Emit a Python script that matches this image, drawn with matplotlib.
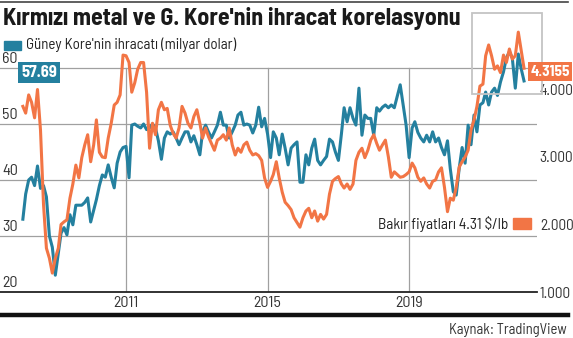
import pandas as pd
import numpy as np
import matplotlib.pyplot as plt
from matplotlib.patches import Rectangle
from matplotlib.lines import Line2D

plt.rcParams['font.family'] = ['Barlow Semi Condensed', 'DejaVu Sans']
plt.rcParams['font.stretch'] = 'condensed'

# monthly data, Feb 2008 - Apr 2022
dates = pd.date_range('2008-02-01', periods=171, freq='MS')

exports = [33, 37.5, 40, 40.5, 39, 42.5, 38.5, 39, 37, 30, 28, 23, 27, 30.5, 31.5, 30.2,
           33.8, 32, 35.5, 35.5, 35.5, 36, 36.8, 32.5, 34.6, 36.5, 39, 40.9, 40.5, 42.7,
           40.5, 38.6, 43, 45, 45.8, 46, 40.4, 49.8, 50, 49.6, 49.3, 50, 49, 49.3, 50,
           49.3, 47, 43.7, 47.5, 48.6, 48.2, 48.6, 47.5, 46.3, 47.5, 48.6, 48.6, 46.8,
           47.9, 46.3, 44.5, 48.6, 49.8, 48.6, 47.5, 48.6, 49.8, 52.1, 49.8, 49.8, 47.5,
           48.6, 49.8, 51.6, 52.1, 49.8, 50, 49.8, 48.4, 49.8, 53, 49.5, 51, 48.2, 44,
           48.6, 47.5, 44.5, 48.2, 45.7, 42.7, 45.7, 46.3, 46.8, 39.6, 39.6, 44.5, 42.7,
           45.7, 47.3, 43.5, 42.7, 43.5, 44.2, 47.3, 46.8, 45, 43.5, 48.2, 52.9, 50.4,
           52.9, 51, 49.8, 56.4, 48, 51.6, 51, 51, 48, 52.9, 52.3, 53, 53.4, 52.9, 53.4,
           52.9, 55, 57, 53.4, 49.8, 44, 49.3, 50.4, 48.5, 47.5, 46.8, 48, 46.8, 48.6,
           46.8, 47.5, 45.8, 44.5, 47, 42, 37.9, 37.3, 42.1, 45.8, 43, 49.8, 46.3, 51.6,
           48.6, 53.4, 53.8, 55.7, 53.4, 55.7, 56.4, 55.1, 57.5, 59.3, 61.8, 62.9, 61.8,
           56.4, 62.5, 60, 57.69]

copper = [3.75, 3.65, 3.92, 3.81, 3.58, 4.0, 3.4, 2.3, 1.65, 1.5, 1.28, 1.5, 1.65, 2.0,
          2.04, 2.07, 2.39, 2.6, 2.88, 2.69, 2.99, 3.18, 3.33, 2.93, 3.18, 3.55, 3.07, 3.0,
          2.99, 3.28, 3.5, 3.77, 3.81, 3.92, 4.51, 4.5, 4.4, 3.96, 4.1, 4.3, 4.4, 4.4,
          3.96, 3.13, 3.5, 3.33, 3.7, 3.81, 3.7, 3.72, 3.47, 3.35, 3.28, 3.43, 3.75, 3.65,
          3.5, 3.43, 3.6, 3.7, 3.5, 3.28, 3.43, 3.3, 3.2, 3.1, 3.25, 3.28, 3.33, 3.25,
          3.43, 3.18, 3.03, 3.13, 3.07, 3.18, 3.22, 3.1, 3.03, 3.05, 3.02, 2.95, 2.69,
          2.55, 2.64, 2.74, 2.93, 2.69, 2.48, 2.33, 2.28, 2.22, 2.1, 2.03, 1.96, 2.1, 2.2,
          2.24, 2.1, 2.2, 2.05, 2.15, 2.08, 2.15, 2.45, 2.64, 2.68, 2.71, 2.6, 2.54, 2.6,
          2.52, 2.6, 2.95, 3.07, 3.13, 2.99, 3.1, 3.25, 3.33, 3.2, 3.1, 3.18, 3.25, 3.0,
          2.7, 2.78, 2.74, 2.7, 2.71, 2.74, 2.78, 2.91, 2.84, 2.7, 2.64, 2.69, 2.6, 2.54,
          2.64, 2.66, 2.78, 2.84, 2.55, 2.19, 2.39, 2.36, 2.55, 2.85, 2.93, 3.0, 3.1, 3.4,
          3.55, 3.75, 4.05, 4.08, 4.5, 4.66, 4.5, 4.3, 4.35, 4.25, 4.51, 4.4, 4.6, 4.45,
          4.5, 4.85, 4.6, 4.3155]

left_ticks = [20, 30, 40, 50, 60]
right_ticks = [1, 2, 3, 4]
year_ticks = ['2011', '2015', '2019']

teal = '#24809f'
orange = '#f27545'
grid_c = '#a0a0a0'

fig = plt.figure(figsize=(5.73, 3.38), dpi=100)
ax = fig.add_axes([0, 1 - 292 / 338, 537 / 573, 263 / 338])
ax2 = ax.twinx()

ax.set_ylim(20, 20 + 263 / 5.6)
ax2.set_ylim(1, 1 + 263 / 67.5)
ax.set_xlim(pd.Timestamp('2007-06-10'), pd.Timestamp('2022-08-13'))

# grid
for v in left_ticks[1:]:
    ax.axhline(v, color=grid_c, lw=0.9, zorder=0)
ymax_frac = (60 - 20) / (ax.get_ylim()[1] - 20)
for y in year_ticks:
    ax.axvline(pd.Timestamp(y + '-01-01'), ymin=0, ymax=ymax_frac, color=grid_c, lw=0.9, zorder=0)

ax.plot(dates, exports, color=teal, lw=2.2, solid_joinstyle='round')
ax2.plot(dates, copper, color=orange, lw=2.2, solid_joinstyle='round')

for a in (ax, ax2):
    for s in a.spines.values():
        s.set_visible(False)
ax.spines['bottom'].set_visible(True)
ax.spines['bottom'].set_color('#222222')
ax.spines['bottom'].set_linewidth(1.3)

ax.set_yticks([])
ax.set_xticks([pd.Timestamp(y + '-01-01') for y in year_ticks])
ax.set_xticklabels(year_ticks, fontsize=11.5, color='#333333')
ax.tick_params(axis='x', length=0, pad=3)

for v in left_ticks:
    ax.text(0.004, v + 0.3, str(v), transform=ax.get_yaxis_transform(),
            fontsize=11.5, color='#333333', ha='left', va='bottom')

ax2.set_yticks(right_ticks)
ax2.set_yticklabels(['%d.000' % t for t in right_ticks], fontsize=11, color='#333333')
ax2.tick_params(axis='y', length=0, pad=2)

# highlight box
fig.patches.append(Rectangle((472 / 573, 1 - 94 / 338), 70 / 573, 81 / 338,
                             transform=fig.transFigure, fill=False,
                             edgecolor='#c4c4c4', lw=1.3))

# value labels
fig.text(39 / 573, 1 - 72.5 / 338, '57.69', color='white', fontsize=12, fontweight='bold',
         ha='center', va='center',
         bbox=dict(boxstyle='square,pad=0.18', fc=teal, ec='none'))
fig.text(550 / 573, 1 - 71.5 / 338, '4.3155', color='white', fontsize=11, fontweight='bold',
         ha='center', va='center',
         bbox=dict(boxstyle='square,pad=0.15', fc=orange, ec='none'))

# title and legend
fig.text(3 / 573, 1 - 19 / 338, "Kırmızı metal ve G. Kore'nin ihracat korelasyonu",
         fontsize=17.2, fontweight='bold', color='#1a1a1a', ha='left', va='center')
fig.patches.append(Rectangle((4 / 573, 1 - 50 / 338), 17 / 573, 9 / 338,
                             transform=fig.transFigure, color=teal))
fig.text(26 / 573, 1 - 45 / 338, "Güney Kore'nin ihracatı (milyar dolar)",
         fontsize=10.8, color='#222222', ha='left', va='center')

fig.text(508 / 573, 1 - 224 / 338, 'Bakır fiyatları 4.31 $/lb',
         fontsize=11, color='#222222', ha='right', va='center')
fig.patches.append(Rectangle((513 / 573, 1 - 229 / 338), 18 / 573, 11 / 338,
                             transform=fig.transFigure, color=orange))

# frame lines and source
fig.lines.append(Line2D([0, 568 / 573], [1 - 2 / 338] * 2, transform=fig.transFigure,
                        color='#444444', lw=1.2))
fig.lines.append(Line2D([0, 568 / 573], [1 - 315 / 338] * 2, transform=fig.transFigure,
                        color='#111111', lw=3.2))
fig.text(567 / 573, 1 - 330 / 338, 'Kaynak: TradingView', fontsize=10.5, color='#333333',
         ha='right', va='center')

fig.savefig('out.png', dpi=100)
